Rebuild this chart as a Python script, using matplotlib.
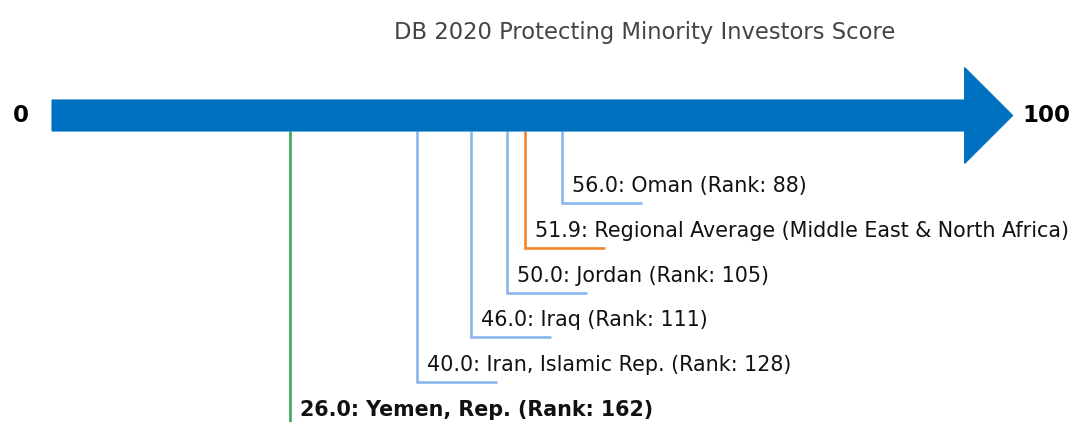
import matplotlib
matplotlib.use("Agg")
import matplotlib.pyplot as plt
from matplotlib.patches import Polygon

title = "DB 2020 Protecting Minority Investors Score"
names = ["Oman", "Regional Average (Middle East & North Africa)", "Jordan", "Iraq", "Iran, Islamic Rep.", "Yemen, Rep."]
scores = [56.0, 51.9, 50.0, 46.0, 40.0, 26.0]
ranks = [88, None, 105, 111, 128, 162]
kinds = ["peer", "avg", "peer", "peer", "peer", "focus"]
axis_min, axis_max = 0, 100

colors = {"peer": "#8AB6EE", "avg": "#F5862A", "focus": "#3CA85A"}

fig = plt.figure(figsize=(10.74, 4.22), dpi=100)
ax = fig.add_axes([0, 0, 1, 1])
pxu = 9.07  # pixels per score unit
x0px = 54
ax.set_xlim(-x0px / pxu, (1074 - x0px) / pxu)
ax.set_ylim(422, 0)
ax.axis("off")

# arrow
ybar = 115.5
sh = 15.5
hh = 48
xs0 = axis_min - 0.22
xs1 = axis_max + 0.4
xtip = axis_max + 5.7
poly = Polygon([(xs0, ybar - sh), (xs1, ybar - sh), (xs1, ybar - hh), (xtip, ybar),
                (xs1, ybar + hh), (xs1, ybar + sh), (xs0, ybar + sh)],
               closed=True, facecolor="#0070C0", edgecolor="#0070C0", lw=0.8, zorder=3)
ax.add_patch(poly)

ax.text(axis_min - 3.7, ybar, str(axis_min), ha="center", va="center",
        fontsize=16.5, fontweight="bold", color="black")
ax.text(axis_max + 9.4, ybar, str(axis_max), ha="center", va="center",
        fontsize=16.5, fontweight="bold", color="black")

ax.text((645 - x0px) / pxu, 32, title, ha="center", va="center", fontsize=16.3, color="#444444")

ytop = ybar + sh
hlen = 80 / pxu
for i, (n, s, r, k) in enumerate(zip(names, scores, ranks, kinds)):
    yl = 203 + 44.8 * i
    c = colors[k]
    if k == "focus":
        ax.plot([s, s], [ytop, 430], color=c, lw=1.9, zorder=2, solid_capstyle="butt")
    else:
        ax.plot([s, s, s + hlen], [ytop, yl, yl], color=c, lw=1.9, zorder=2,
                solid_capstyle="butt", solid_joinstyle="miter")
    label = f"{s:.1f}: {n}" + (f" (Rank: {r})" if r is not None else "")
    ax.text(s + 10 / pxu, yl - 17, label, ha="left", va="center", fontsize=14.9,
            fontweight="bold" if k == "focus" else "normal", color="#111111")

fig.savefig("out.png", dpi=100)
